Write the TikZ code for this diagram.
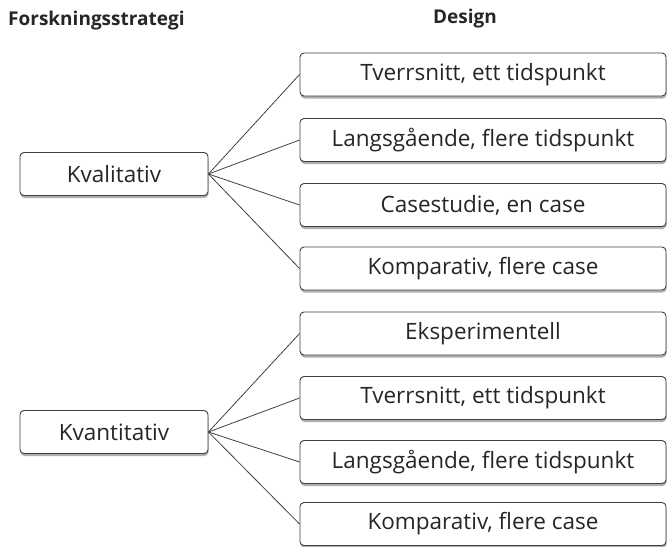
\documentclass[tikz,border=0pt]{standalone}
\usepackage{fontspec}
\setmainfont{Open Sans}
\usetikzlibrary{shadows}
\begin{document}
\begin{tikzpicture}[x=1pt,y=-1pt,
  box/.style={draw=black!75, line width=0.9pt, rounded corners=4pt, fill=white,
    drop shadow={shadow xshift=0.5pt, shadow yshift=-2.5pt, fill=black!45, opacity=0.7},
    minimum height=43pt, inner sep=0pt, font=\fontsize{22.5}{26}\selectfont, text=black!85},
  rbox/.style={box, minimum width=366pt},
  lbox/.style={box, minimum width=188pt},
  head/.style={font=\bfseries\fontsize{19}{22}\selectfont, text=black!85, inner sep=0pt},
  conn/.style={draw=black!75, line width=0.8pt}]
\useasboundingbox (0,0) rectangle (668,546);
\node[head, anchor=west] (h1) at (8,21) {Forskningsstrategi};
\node[head] (h2) at (465,19) {Design};
\node[lbox] (kval) at (114,174) {Kvalitativ};
\node[lbox] (kvan) at (114,432) {Kvantitativ};
\node[rbox] (r1) at (483,74.5) {Tverrsnitt, ett tidspunkt};
\node[rbox] (r2) at (483,140) {Langsgående, flere tidspunkt};
\node[rbox] (r3) at (483,205) {Casestudie, en case};
\node[rbox] (r4) at (483,268.5) {Komparativ, flere case};
\node[rbox] (r5) at (483,333.5) {Eksperimentell};
\node[rbox] (r6) at (483,398) {Tverrsnitt, ett tidspunkt};
\node[rbox] (r7) at (483,462) {Langsgående, flere tidspunkt};
\node[rbox] (r8) at (483,524) {Komparativ, flere case};
\foreach \r in {r1,r2,r3,r4} \draw[conn] (kval.east) -- (\r.west);
\foreach \r in {r5,r6,r7,r8} \draw[conn] (kvan.east) -- (\r.west);
\end{tikzpicture}
\end{document}
